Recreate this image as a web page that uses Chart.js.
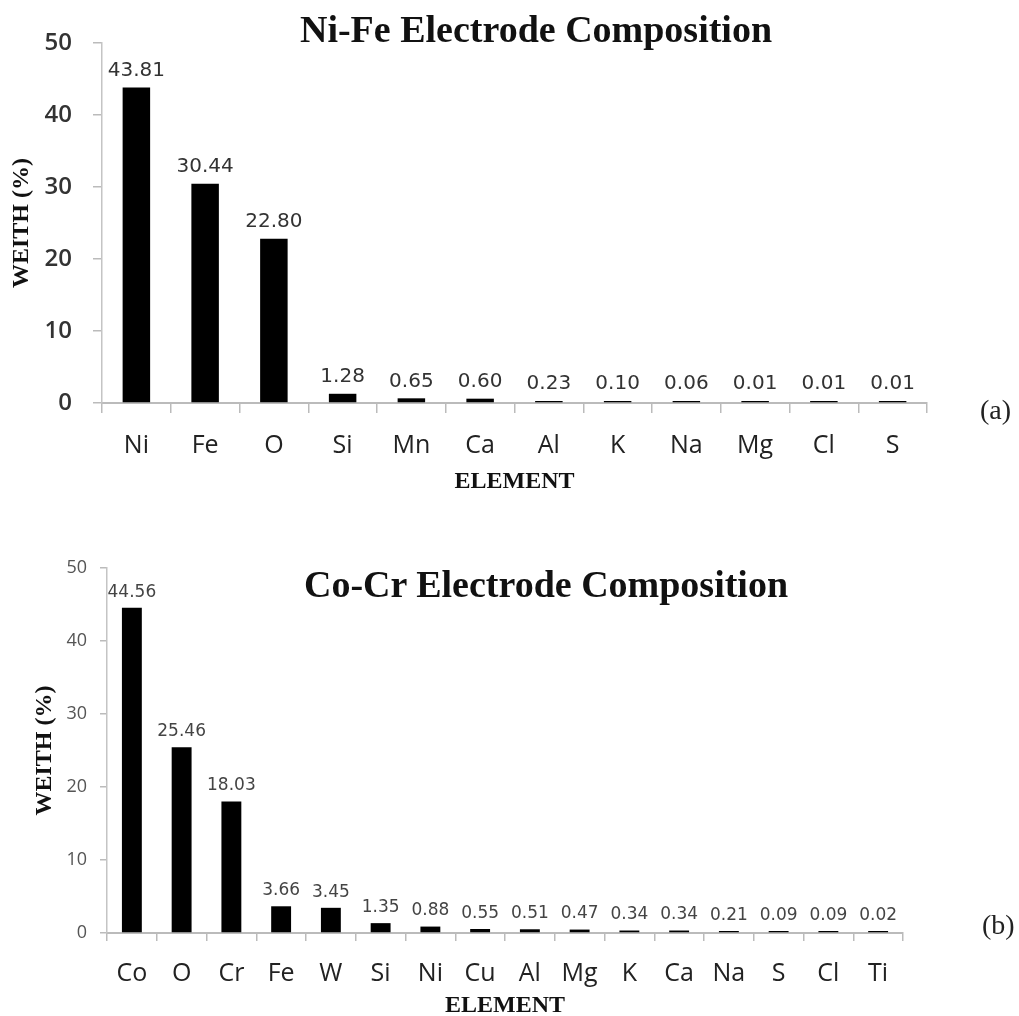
<!DOCTYPE html>
<html>
<head>
<meta charset="utf-8">
<script src="https://cdn.jsdelivr.net/npm/chart.js@4/dist/chart.umd.min.js"></script>
<style>
  html, body { margin: 0; padding: 0; background: #fff; overflow: hidden; }
  body { width: 1019px; height: 1016px; position: relative; }
  .box { position: absolute; left: 0; width: 1019px; }
  .title { position: absolute; width: 600px; text-align: center; font-family: "Liberation Serif", serif;
           font-weight: bold; font-size: 38px; line-height: 38px; color: #111; white-space: nowrap; }
  .tag { position: absolute; font-family: "Liberation Serif", serif; font-size: 28px; line-height: 28px; color: #222; }
</style>
</head>
<body>
<div class="box" style="top:0;height:500px"><canvas id="chartA"></canvas></div>
<div class="box" style="top:520px;height:500px"><canvas id="chartB"></canvas></div>
<div class="title" style="left:236px;top:10px">Ni-Fe Electrode Composition</div>
<div class="title" style="left:246px;top:565px">Co-Cr Electrode Composition</div>
<div class="tag" style="left:980px;top:396px">(a)</div>
<div class="tag" style="left:982px;top:911px">(b)</div>
<script>
// (a) Ni-Fe electrode
const elementsA = ['Ni', 'Fe', 'O', 'Si', 'Mn', 'Ca', 'Al', 'K', 'Na', 'Mg', 'Cl', 'S'];
const weightA = [43.81, 30.44, 22.80, 1.28, 0.65, 0.60, 0.23, 0.10, 0.06, 0.01, 0.01, 0.01];

// (b) Co-Cr electrode
const elementsB = ['Co', 'O', 'Cr', 'Fe', 'W', 'Si', 'Ni', 'Cu', 'Al', 'Mg', 'K', 'Ca', 'Na', 'S', 'Cl', 'Ti'];
const weightB = [44.56, 25.46, 18.03, 3.66, 3.45, 1.35, 0.88, 0.55, 0.51, 0.47, 0.34, 0.34, 0.21, 0.09, 0.09, 0.02];

const yTicks = [0, 10, 20, 30, 40, 50];

// writes the value above each bar
const barLabels = {
    id: 'barLabels',
    afterDatasetsDraw(chart, args, opts) {
        const ctx = chart.ctx;
        const meta = chart.getDatasetMeta(0);
        const values = chart.data.datasets[0].data;
        ctx.save();
        ctx.font = opts.size + 'px "DejaVu Sans", sans-serif';
        ctx.fillStyle = opts.color;
        ctx.textAlign = 'center';
        ctx.textBaseline = 'bottom';
        meta.data.forEach((bar, i) => {
            ctx.fillText(values[i].toFixed(2), bar.x, bar.y - opts.gap);
        });
        ctx.restore();
    }
};

function makeChart(id, labels, values, s) {
    return new Chart(document.getElementById(id), {
        type: 'bar',
        data: {
            labels: labels,
            datasets: [{
                data: values,
                backgroundColor: '#000',
                barPercentage: 0.4,
                categoryPercentage: 1,
                minBarLength: 2
            }]
        },
        options: {
            responsive: true,
            maintainAspectRatio: false,
            animation: false,
            layout: { padding: { top: s.padTop, right: s.padRight, left: 0, bottom: 0 } },
            plugins: {
                legend: { display: false },
                tooltip: { enabled: false },
                barLabels: { size: s.labelSize, color: s.labelColor, gap: 7 }
            },
            scales: {
                x: {
                    grid: { offset: true, drawOnChartArea: false, tickLength: s.xTick, color: '#bbb', lineWidth: 1.5 },
                    border: { color: '#bbb', width: 2 },
                    ticks: { color: '#222', padding: 18, font: { family: 'Open Sans', size: 25 } },
                    title: {
                        display: true, text: 'ELEMENT', color: '#111',
                        font: { family: 'Liberation Serif', size: 24, weight: 'bold', lineHeight: 1 },
                        padding: { top: 0, bottom: s.elemPad }
                    },
                    afterFit(scale) { scale.height = s.xHeight; }
                },
                y: {
                    min: 0, max: 50,
                    afterBuildTicks(scale) { scale.ticks = yTicks.map(v => ({ value: v })); },
                    grid: { drawOnChartArea: false, tickLength: s.yTick, color: '#bbb', lineWidth: 1.5 },
                    border: { color: '#c4c4c4', width: 1.5 },
                    ticks: { color: s.yColor, padding: s.yPad, font: { family: 'Open Sans', size: s.ySize, weight: s.yWeight } },
                    title: {
                        display: true, text: 'WEITH (%)', color: '#111',
                        font: { family: 'Liberation Serif', size: 24, weight: 'bold', lineHeight: 1 },
                        padding: { top: s.yTitlePad, bottom: 0 }
                    },
                    afterFit(scale) { scale.width = s.yWidth; }
                }
            }
        },
        plugins: [barLabels]
    });
}

makeChart('chartA', elementsA, weightA, {
    padTop: 43, padRight: 92, xHeight: 97, xTick: 10, elemPad: 6,
    yWidth: 102, yTick: 9, yPad: 21, ySize: 24, yWeight: '600', yColor: '#333', yTitlePad: 10,
    labelSize: 20, labelColor: '#333'
});

makeChart('chartB', elementsB, weightB, {
    padTop: 48, padRight: 116, xHeight: 87, xTick: 8, elemPad: 2,
    yWidth: 107, yTick: 7, yPad: 13, ySize: 18, yWeight: 'normal', yColor: '#555', yTitlePad: 33,
    labelSize: 17, labelColor: '#444'
});
</script>
</body>
</html>
